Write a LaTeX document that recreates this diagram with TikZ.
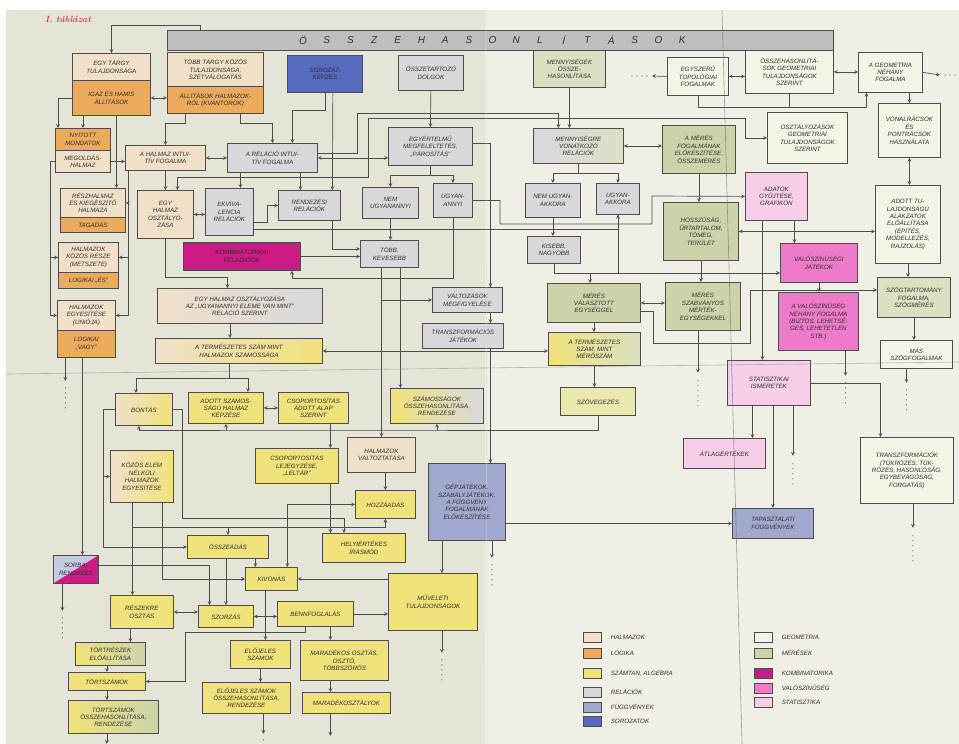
\documentclass[tikz,border=0pt]{standalone}
\usepackage{fontspec}
\setsansfont{Liberation Sans}
\usetikzlibrary{positioning}

\definecolor{paper}{RGB}{230,227,215}
\definecolor{paperb}{RGB}{241,238,229}
\definecolor{lin}{RGB}{78,76,74}
\definecolor{ink}{RGB}{50,46,44}
\definecolor{halm}{RGB}{240,224,200}
\definecolor{logi}{RGB}{235,170,92}
\definecolor{szam}{RGB}{240,226,122}
\definecolor{szamv}{RGB}{232,232,175}
\definecolor{rel}{RGB}{216,216,220}
\definecolor{fugg}{RGB}{160,168,206}
\definecolor{soro}{RGB}{86,106,190}
\definecolor{geo}{RGB}{245,243,230}
\definecolor{meres}{RGB}{204,211,170}
\definecolor{komb}{RGB}{206,26,132}
\definecolor{valo}{RGB}{238,122,202}
\definecolor{stat}{RGB}{246,206,232}
\definecolor{barc}{RGB}{190,190,190}
\definecolor{redink}{RGB}{205,70,70}

\begin{document}
\begin{tikzpicture}[x=1pt, y=-1pt, >=stealth]
        \tikzstyle{box}=[draw=lin, line width=0.8pt, anchor=north west, align=center, inner sep=1pt, text=ink, font=\sffamily\itshape\fontsize{6.2}{7.4}\selectfont]
        \tikzstyle{conn}=[draw=lin, line width=0.7pt]
        \tikzstyle{cont}=[draw=lin, line width=1.2pt, line cap=round, dash pattern=on 0pt off 5pt]
        \tikzstyle{leg}=[draw=lin, line width=0.6pt, minimum width=18, minimum height=10, inner sep=0pt]
        \tikzstyle{legtxt}=[font=\sffamily\itshape\fontsize{6.2}{7}\selectfont, text=ink, label distance=6pt]

        % paper
        \useasboundingbox (0,0) rectangle (959,744);
        \fill[white] (0,0) rectangle (959,744);
        \fill[paper] (6,10) rectangle (485,744);
        \fill[paperb] (485,10) rectangle (959,744);

        \node[font=\rmfamily\itshape\bfseries\fontsize{9}{10}\selectfont, text=redink] (cim) at (68,19) {I. táblázat};

        % header bar
        \node[draw=lin, line width=0.7pt, fill=barc, anchor=north west, minimum width=666, minimum height=20, inner sep=0pt] (bar) at (167,30) {};
        \foreach \l [count=\i from 0] in {Ö,S,S,Z,E,H,A,S,O,N,L,Í,T,Á,S,O,K}
            \node[font=\sffamily\itshape\fontsize{10}{11}\selectfont, text=ink] (bl\i) at ({303+23.7*\i},40) {\l};

        % left part
        \node[box, fill=halm, minimum width=78, minimum height=27] (targy1) at (72,53) {EGY TÁRGY\\TULAJDONSÁGA};
        \node[box, fill=logi, minimum width=78, minimum height=35] (allit) at (72,80) {IGAZ ÉS HAMIS\\ÁLLÍTÁSOK};
        \node[box, fill=halm, minimum width=96, minimum height=34] (targy2) at (167,52) {TÖBB TÁRGY KÖZÖS\\TULAJDONSÁGA,\\SZÉTVÁLOGATÁS};
        \node[box, fill=logi, minimum width=96, minimum height=27] (targy2b) at (167,86) {ÁLLÍTÁSOK HALMAZOK-\\RÓL (KVANTOROK)};
        \node[box, fill=soro, minimum width=75, minimum height=37] (sorozat) at (287,55) {SOROZAT-\\KÉPZÉS};
        \node[box, fill=rel, minimum width=65, minimum height=35] (osszetart) at (398,55) {ÖSSZETARTOZÓ\\DOLGOK};
        \node[box, fill=logi, minimum width=55, minimum height=22] (nyitott) at (55,128) {NYITOTT\\MONDATOK};
        \node[box, fill=halm, minimum width=55, minimum height=22] (megold) at (55,150) {MEGOLDÁS-\\HALMAZ};
        \node[box, fill=halm, minimum width=80, minimum height=25] (halmint) at (125,145) {A HALMAZ INTUI-\\TÍV FOGALMA};
        \node[box, fill=rel, minimum width=90, minimum height=29] (relint) at (227,143) {A RELÁCIÓ INTUI-\\TÍV FOGALMA};
        \node[box, fill=rel, minimum width=84, minimum height=38] (parosit) at (388,127) {EGYÉRTELMŰ\\MEGFELELTETÉS,\\„PÁROSÍTÁS”};
        \node[box, fill=halm, minimum width=65, minimum height=29] (reszh) at (60,188) {RÉSZHALMAZ\\ÉS KIEGÉSZÍTŐ\\HALMAZA};
        \node[box, fill=logi, minimum width=65, minimum height=15] (tagad) at (60,217) {TAGADÁS};
        \node[box, fill=halm, minimum width=56, minimum height=48] (osztaly) at (137,190) {EGY\\HALMAZ\\OSZTÁLYO-\\ZÁSA};
        \node[box, fill=rel, minimum width=48, minimum height=47] (ekviv) at (205,188) {EKVIVA-\\LENCIA\\RELÁCIÓK};
        \node[box, fill=rel, minimum width=62, minimum height=30] (rendez) at (278,190) {RENDEZÉSI\\RELÁCIÓK};
        \node[box, fill=rel, minimum width=56, minimum height=31] (nemugy) at (362,187) {NEM\\UGYANANNYI};
        \node[box, fill=rel, minimum width=39, minimum height=34] (ugyan) at (433,183) {UGYAN-\\ANNYI};
        \node[box, fill=halm, minimum width=60, minimum height=30] (metszet) at (58,242) {HALMAZOK\\KÖZÖS RÉSZE\\(METSZETE)};
        \node[box, fill=logi, minimum width=60, minimum height=16] (es) at (58,272) {LOGIKAI „ÉS”};
        \node[box, fill=halm, minimum width=58, minimum height=30] (unio) at (57,300) {HALMAZOK\\EGYESÍTÉSE\\(UNIÓJA)};
        \node[box, fill=logi, minimum width=58, minimum height=27] (vagy) at (57,330) {LOGIKAI\\„VAGY”};
        \node[box, fill=komb, minimum width=117, minimum height=28] (komb) at (183,242) {KOMBINATORIKAI\\FELADATOK};
        \node[box, fill=rel, minimum width=58, minimum height=27] (tobb) at (360,240) {TÖBB,\\KEVESEBB};
        \node[box, left color=halm, right color=rel, minimum width=165, minimum height=35] (osztugy) at (157,288) {EGY HALMAZ OSZTÁLYOZÁSA\\AZ „UGYANANNYI ELEME VAN MINT”\\RELÁCIÓ SZERINT};
        \node[box, fill=rel, minimum width=70, minimum height=25] (valtoz) at (432,287) {VÁLTOZÁSOK\\MEGFIGYELÉSE};
        \node[box, fill=rel, minimum width=81, minimum height=25] (transzjat) at (422,323) {TRANSZFORMÁCIÓS\\JÁTÉKOK};
        \node[box, left color=halm, right color=szam, minimum width=167, minimum height=25] (termszam) at (155,338) {A TERMÉSZETES SZÁM MINT\\HALMAZOK SZÁMOSSÁGA};

        % numbers
        \node[box, left color=halm, right color=szam, minimum width=57, minimum height=32] (bontas) at (115,393) {BONTÁS};
        \node[box, fill=szam, minimum width=75, minimum height=31] (adottszam) at (188,392) {ADOTT SZÁMOS-\\SÁGÚ HALMAZ\\KÉPZÉSE};
        \node[box, fill=szam, minimum width=70, minimum height=31] (csoport) at (278,392) {CSOPORTOSÍTÁS\\ADOTT ALAP\\SZERINT};
        \node[box, left color=szam, right color=rel, minimum width=93, minimum height=35] (szamossag) at (390,388) {SZÁMOSSÁGOK\\ÖSSZEHASONLÍTÁSA,\\RENDEZÉSE};
        \node[box, fill=halm, minimum width=68, minimum height=35] (halmvalt) at (347,437) {HALMAZOK\\VÁLTOZTATÁSA};
        \node[box, fill=szam, minimum width=83, minimum height=35] (leltar) at (255,448) {CSOPORTOSÍTÁS\\LEJEGYZÉSE,\\„LELTÁR”};
        \node[box, left color=halm, right color=szam, minimum width=63, minimum height=52] (kozos) at (110,450) {KÖZÖS ELEM\\NÉLKÜLI\\HALMAZOK\\EGYESÍTÉSE};
        \node[box, fill=fugg, minimum width=77, minimum height=77] (gepjat) at (428,463) {GÉPJÁTÉKOK,\\SZABÁLYJÁTÉKOK,\\A FÜGGVÉNY\\FOGALMÁNAK\\ELŐKÉSZÍTÉSE};
        \node[box, fill=szam, minimum width=60, minimum height=28] (hozza) at (355,490) {HOZZÁADÁS};
        \node[box, fill=szam, minimum width=83, minimum height=29] (helyi) at (322,533) {HELYIÉRTÉKES\\ÍRÁSMÓD};
        \node[box, fill=szam, minimum width=81, minimum height=23] (osszead) at (187,535) {ÖSSZEADÁS};
        \node[box, fill=szam, minimum width=52, minimum height=23] (kivon) at (245,567) {KIVONÁS};
        \node[box, fill=szam, minimum width=89, minimum height=57] (muvel) at (388,573) {MŰVELETI\\TULAJDONSÁGOK};
        \node[box, fill=fugg!60!white, minimum width=45, minimum height=28,
              path picture={\fill[komb] (path picture bounding box.north east) -- (path picture bounding box.south east) -- (path picture bounding box.south west) -- cycle;}] (becsles) at (53,555) {SORBA-\\RENDEZÉS};
        \node[box, fill=szam, minimum width=63, minimum height=33] (reszek) at (110,595) {RÉSZEKRE\\OSZTÁS};
        \node[box, fill=szam, minimum width=55, minimum height=22] (szorzas) at (198,605) {SZORZÁS};
        \node[box, fill=szam, minimum width=76, minimum height=25] (bennfog) at (277,601) {BENNFOGLALÁS};
        \node[box, left color=szam, right color=meres, minimum width=70, minimum height=23] (tortresz) at (75,642) {TÖRTRÉSZEK\\ELŐÁLLÍTÁSA};
        \node[box, fill=szam, minimum width=77, minimum height=18] (tortszam) at (68,672) {TÖRTSZÁMOK};
        \node[box, left color=szam, right color=meres, minimum width=90, minimum height=33] (tortossz) at (68,700) {TÖRTSZÁMOK\\ÖSSZEHASONLÍTÁSA,\\RENDEZÉSE};
        \node[box, fill=szam, minimum width=60, minimum height=28] (elojel) at (230,640) {ELŐJELES\\SZÁMOK};
        \node[box, fill=szam, minimum width=88, minimum height=31] (elojelossz) at (202,682) {ELŐJELES SZÁMOK\\ÖSSZEHASONLÍTÁSA,\\RENDEZÉSE};
        \node[box, fill=szam, minimum width=88, minimum height=40] (maradek) at (300,640) {MARADÉKOS OSZTÁS,\\OSZTÓ,\\TÖBBSZÖRÖS};
        \node[box, fill=szam, minimum width=88, minimum height=21] (maradekoszt) at (302,692) {MARADÉKOSZTÁLYOK};

        % measures, geometry, statistics
        \node[box, fill=meres!70!white, minimum width=72, minimum height=37] (mennyiseg) at (533,50) {MENNYISÉGEK\\ÖSSZE-\\HASONLÍTÁSA};
        \node[box, left color=rel, right color=meres!70!white, minimum width=90, minimum height=35] (menrel) at (533,128) {MENNYISÉGRE\\VONATKOZÓ\\RELÁCIÓK};
        \node[box, fill=rel, minimum width=55, minimum height=34] (nemakkora) at (525,183) {NEM UGYAN-\\AKKORA};
        \node[box, fill=rel, minimum width=43, minimum height=31] (akkora) at (596,183) {UGYAN-\\AKKORA};
        \node[box, fill=rel, minimum width=53, minimum height=27] (kisebb) at (527,236) {KISEBB,\\NAGYOBB};
        \node[box, fill=meres, minimum width=93, minimum height=39] (meresval) at (547,283) {MÉRÉS\\VÁLASZTOTT\\EGYSÉGGEL};
        \node[box, left color=szam, right color=meres!70!white, minimum width=92, minimum height=33] (termmero) at (548,332) {A TERMÉSZETES\\SZÁM, MINT\\MÉRŐSZÁM};
        \node[box, fill=szamv, minimum width=75, minimum height=28] (szoveg) at (560,387) {SZÖVEGEZÉS};
        \node[box, fill=geo, minimum width=61, minimum height=38] (topol) at (667,57) {EGYSZERŰ\\TOPOLÓGIAI\\FOGALMAK};
        \node[box, fill=geo, minimum width=88, minimum height=43] (geoossz) at (745,50) {ÖSSZEHASONLÍTÁ-\\SOK GEOMETRIAI\\TULAJDONSÁGOK\\SZERINT};
        \node[box, fill=geo, minimum width=64, minimum height=40] (geofog) at (858,52) {A GEOMETRIA\\NÉHÁNY\\FOGALMA};
        \node[box, fill=geo, minimum width=62, minimum height=54] (vonal) at (878,103) {VONALRÁCSOK\\ÉS\\PONTRÁCSOK\\HASZNÁLATA};
        \node[box, fill=geo, minimum width=80, minimum height=51] (osztgeo) at (767,112) {OSZTÁLYOZÁSOK\\GEOMETRIAI\\TULAJDONSÁGOK\\SZERINT};
        \node[box, fill=meres, minimum width=73, minimum height=48] (meresfog) at (662,125) {A MÉRÉS\\FOGALMÁNAK\\ELŐKÉSZÍTÉSE,\\ÖSSZEMÉRÉS};
        \node[box, fill=stat, minimum width=62, minimum height=48] (adatok) at (745,172) {ADATOK\\GYŰJTÉSE,\\GRAFIKON};
        \node[box, fill=meres, minimum width=75, minimum height=58] (hossz) at (663,202) {HOSSZÚSÁG,\\ŰRTARTALOM,\\TÖMEG,\\TERÜLET};
        \node[box, fill=geo, minimum width=65, minimum height=78] (alakzat) at (875,185) {ADOTT TU-\\LAJDONSÁGÚ\\ALAKZATOK\\ELŐÁLLÍTÁSA\\(ÉPÍTÉS,\\MODELLEZÉS,\\RAJZOLÁS)};
        \node[box, fill=valo, minimum width=77, minimum height=39] (valjat) at (780,243) {VALÓSZÍNŰSÉGI\\JÁTÉKOK};
        \node[box, fill=valo, minimum width=80, minimum height=58] (valfog) at (778,292) {A VALÓSZÍNŰSÉG\\NÉHÁNY FOGALMA\\(BIZTOS, LEHETSÉ-\\GES, LEHETETLEN\\STB.)};
        \node[box, fill=meres!70!white, minimum width=73, minimum height=40] (szog) at (877,277) {SZÖGTARTOMÁNY\\FOGALMA,\\SZÖGMÉRÉS};
        \node[box, fill=geo, minimum width=72, minimum height=28] (masszog) at (880,340) {MÁS\\SZÖGFOGALMAK};
        \node[box, fill=meres, minimum width=75, minimum height=48] (meresszab) at (665,282) {MÉRÉS\\SZABVÁNYOS\\MÉRTÉK-\\EGYSÉGEKKEL};
        \node[box, fill=stat, minimum width=83, minimum height=45] (statism) at (727,360) {STATISZTIKAI\\ISMERETEK};
        \node[box, fill=stat, minimum width=82, minimum height=30] (atlag) at (683,438) {ÁTLAGÉRTÉKEK};
        \node[box, fill=geo, minimum width=93, minimum height=66] (transz) at (860,437) {TRANSZFORMÁCIÓK\\(TÜKRÖZÉS, TÜK-\\RÖZÉS, HASONLÓSÁG,\\EGYBEVÁGÓSÁG,\\FORGATÁS)};
        \node[box, fill=fugg, minimum width=81, minimum height=30] (tapfugg) at (732,508) {TAPASZTALATI\\FÜGGVÉNYEK};

        % bend points
        \coordinate (m1) at (357,113);
        \coordinate (o1) at (368,118);
        \coordinate (o2) at (368,177);
        \coordinate (o3) at (745,118);
        \coordinate (u1) at (500,224);
        \coordinate (u2) at (652,196);
        \coordinate (mv) at (590,273);
        \coordinate (s1) at (653,343);
        \coordinate (s2) at (750,290);
        \coordinate (bt) at (185,632);
        \coordinate (tr) at (300,430);
        \coordinate (tl) at (652,76);
        \coordinate (gr) at (940,75);

        % upper left connectors
        \draw[conn,->] ([xshift=33pt]bar.north west) -- ++(0,-5) -| (targy1.north);
        \draw[conn,<->] (allit.east) -- (allit.east -| targy2b.west);
        \draw[conn,->] (nyitott.north |- allit.south) -- (nyitott.north);
        \draw[conn,->] ([xshift=5pt]allit.south) -- ([xshift=23.5pt]reszh.north);
        \draw[conn,->] (allit.west) -| ([xshift=3pt]nyitott.north west);
        \draw[conn,->] (megold.east) -- (megold.east -| halmint.west);
        \draw[conn,<->] (halmint.east) -- (halmint.east -| relint.west);
        \draw[conn,->] ([xshift=-30pt]targy2b.south) -- ++(0,10) -| (halmint.north);
        \draw[conn,->] ([xshift=25pt]targy2b.south) -- ++(0,10) -| (relint.north);
        \draw[conn,->] (sorozat.south) -- ++(0,18) -| ([xshift=20pt]relint.north);
        \draw[conn,->] ([xshift=8pt]sorozat.south) -- ([xshift=23pt]rendez.north);
        \draw[conn,->] (osszetart.south) -- (parosit.north);
        \draw[conn,<->] (relint.east) -- (relint.east -| parosit.west);
        \draw[conn,->] ([yshift=5pt]relint.east) -| (m1) -| ([xshift=-20pt]menrel.north);
        \draw[conn,<->] ([xshift=12pt]osztaly.north) |- (o2) -- (o1) -| (o3) |- (osztgeo.west);
        \draw[conn,->] ([xshift=-32pt]relint.south) -- ([xshift=11pt]ekviv.north);
        \draw[conn,->] ([xshift=28pt]relint.south) -- ([xshift=-9pt]rendez.north);
        \draw[conn,->] (halmint.south) -- (halmint.south |- osztaly.north);
        \draw[conn,<->] (osztaly.east) -- (osztaly.east -| ekviv.west);
        \draw[conn,->] ([yshift=-10pt]ekviv.east) -- ++(14,0) |- (rendez.west);
        \draw[conn,->] ([yshift=-17pt]ekviv.east) -| (akkora.south);
        \draw[conn,->] (parosit.south) -- ++(0,10) -| (nemugy.north);
        \draw[conn,->] (parosit.south) ++(0,10) -| (ugyan.north);
        \draw[conn,->] (nemugy.south) -- (nemugy.south |- tobb.north);
        \draw[conn,->] ([yshift=3pt]parosit.east) -| ([xshift=23pt]valtoz.north);
        \draw[conn,->] (ugyan.south) -- ++(0,61) -| ([xshift=50pt]komb.south);
        \draw[conn,->] (komb.east) -- (komb.east -| tobb.west);
        \draw[conn,->] ([xshift=23pt]rendez.south) |- ([yshift=5pt]tobb.west);
        \draw[conn,->] (halmvalt.north |- tobb.south) -- (halmvalt.north);
        \draw[conn,->] (halmvalt.north |- valtoz.west) -- (valtoz.west);
        \draw[conn,->] ([xshift=11pt]tobb.south) -- ([xshift=-36.5pt]szamossag.north);
        \draw[conn,->] ([xshift=23pt]valtoz.south) -- ([xshift=27.5pt]transzjat.north);
        \draw[conn,->] ([xshift=27.5pt]transzjat.south) -- ([xshift=23.5pt]gepjat.north);
        \draw[conn,<->] (termszam.east) -- (termszam.east -| termmero.west);
        \draw[conn,->] ([xshift=-37pt]halmint.south) |- (reszh.east);
        \draw[conn,->] ([xshift=-37pt]halmint.south) |- (metszet.east);
        \draw[conn,->] ([xshift=-37pt]halmint.south) |- (unio.east);
        \draw[conn,->] (megold.west) -- ++(-5,0) |- (metszet.west);
        \draw[conn,->] (megold.west) ++(-5,0) |- (unio.west);
        \draw[conn,->] (osztaly.south) -- ++(0,39) -| ([xshift=-12.5pt]osztugy.north);
        \draw[conn,->] ([xshift=-10pt]osztugy.south) -- ([xshift=-9pt]termszam.north);

        % measures and geometry connectors
        \draw[conn,->] (mennyiseg.south) -- (mennyiseg.south |- menrel.north);
        \draw[conn,->] (menrel.south) -- ++(0,10) -| (nemakkora.north);
        \draw[conn,->] (menrel.south) ++(0,10) -| (akkora.north);
        \draw[conn,->] (nemakkora.south) -- (nemakkora.south |- kisebb.north);
        \draw[conn,->] (kisebb.south) |- (valjat.west |- mv);
        \draw[conn] (akkora.south) -- (akkora.south |- mv);
        \draw[conn,->] (mv) -- (mv |- meresval.north);
        \draw[conn,->] (meresval.south) -- (meresval.south |- termmero.north);
        \draw[conn,->] (termmero.south) -- (termmero.south |- szoveg.north);
        \draw[conn,<->] (meresval.east) -- (meresval.east -| meresszab.west);
        \draw[conn,->] ([yshift=-8pt]meresval.east) -| (s1) -| (s2) -- (s2 -| szog.west);
        \draw[conn,<->] (menrel.east) -- (menrel.east -| meresfog.west);
        \draw[conn,->] (meresfog.south) -- (meresfog.south |- hossz.north);
        \draw[conn,->] (hossz.south) -- (hossz.south |- meresszab.north);
        \draw[conn,->] (ugyan.east) -| (u1) -| (u2) -- (adatok.west);
        \draw[conn,<->] (topol.east) -- (topol.east -| geoossz.west);
        \draw[conn,<->] (geoossz.east) -- (geoossz.east -| geofog.west);
        \draw[conn,->] (topol.west) -- (tl);
        \draw[cont] (tl) ++(-5,0) -- ++(-18,0);
        \draw[conn,->] (geofog.east) -- (gr);
        \draw[cont] (gr) ++(5,0) -- ++(12,0);
        \draw[conn,->] (topol.south) -- ++(0,12) -| ([xshift=-24pt]geofog.south);
        \draw[conn] (geoossz.south) -- ++(0,14);
        \draw[conn,->] (vonal.north |- geofog.south) -- (vonal.north);
        \draw[conn,<->] (vonal.south) -- (vonal.south |- alakzat.north);
        \draw[conn,<->] (hossz.east) -- (hossz.east -| alakzat.west);
        \draw[conn,->] ([xshift=18pt]adatok.south) -- ([xshift=-24.5pt]valjat.north);
        \draw[conn,->] ([xshift=-14pt]adatok.south) -- ([xshift=-6.5pt]statism.north);
        \draw[conn,->] (valjat.south) -- (valjat.south |- valfog.north);
        \draw[conn,->] (alakzat.south) -- (alakzat.south |- szog.north);
        \draw[conn,->] (szog.south) -- (szog.south |- masszog.north);
        \draw[conn,->] ([xshift=-16.5pt]statism.south) -- ([xshift=28pt]atlag.north);
        \draw[conn,->] ([xshift=4pt]statism.south) -- (tapfugg.north);
        \draw[conn,->] (statism.east) -| ([xshift=-26.5pt]transz.north);
        \draw[conn,->] (gepjat.east |- tapfugg.west) -- (tapfugg.west);

        % lower connectors
        \draw[conn,->] ([xshift=-25pt]gepjat.south) -- ([xshift=9pt]muvel.north);
        \draw[conn,->] (bennfog.east) -- (bennfog.east -| muvel.west);
        \draw[conn,->] (kivon.east -| muvel.west) -- (kivon.east);
        \draw[conn,->] (hozza.north |- halmvalt.south) -- (hozza.north);
        \draw[conn,<->] ([xshift=16pt]kivon.north) |- (hozza.west);
        \draw[conn,->] ([xshift=-9.5pt]kozos.south) -- ++(0,25) -| (hozza.south);
        \draw[conn,->] ([xshift=-9.5pt]kozos.south) -- ([xshift=-9.5pt]reszek.north);
        \draw[conn,->] ([yshift=8pt]osszead.north) -- (osszead.north);
        \draw[conn,->] ([xshift=20.5pt]kozos.south) |- (kivon.west);
        \draw[conn,->] (bontas.west) -- ++(-12,0) |- (kozos.west);
        \draw[conn,->] (bontas.west) ++(-12,0) |- (osszead.west);
        \draw[conn,->] (bontas.east) -| ++(10,109) -| ([xshift=-20pt]helyi.north);
        \draw[conn,->] ([xshift=17pt]csoport.south) -- ([xshift=33.5pt]leltar.north);
        \draw[conn,->] ([xshift=33.5pt]leltar.south) -- ([xshift=-33.5pt]helyi.north);
        \draw[conn,<->] (adottszam.east) -- (adottszam.east -| csoport.west);
        \draw[conn,->] ([xshift=-10pt]termszam.south) -- ++(0,15) -| ([xshift=-8pt]bontas.north);
        \draw[conn,->] ([xshift=-10pt]termszam.south) ++(0,15) -| ([xshift=22pt]adottszam.north);
        \draw[conn,<-] ([xshift=-5pt]bontas.south) |- (tr) -| (szoveg.south);
        \draw[conn,->] (adottszam.south |- tr) -- (adottszam.south);
        \draw[conn,->] (szamossag.south |- tr) -- (szamossag.south);
        \draw[conn,->] ([xshift=-4pt]vagy.south) -- ([xshift=6.5pt]becsles.north);
        \draw[conn,->] ([yshift=4pt]becsles.east) -| ([xshift=-16.5pt]szorzas.north);
        \draw[conn,->] (szorzas.north |- osszead.south) -- (szorzas.north);
        \draw[conn,->] ([xshift=27.5pt]osszead.south) -- ([xshift=-16pt]kivon.north);
        \draw[conn,<->] (reszek.east) -- (reszek.east -| szorzas.west);
        \draw[conn,<->] (szorzas.east) -- (szorzas.east -| bennfog.west);
        \draw[conn,->] ([xshift=-6pt]kivon.south) -- ([xshift=5pt]elojel.north);
        \draw[conn,->] (elojel.south) -- (elojel.south |- elojelossz.north);
        \draw[conn,->] ([xshift=15pt]bennfog.south) -- ([xshift=-14pt]maradek.north);
        \draw[conn,->] ([xshift=-14pt]maradek.south) -- ([xshift=-16pt]maradekoszt.north);
        \draw[conn,->] ([xshift=-10pt]bennfog.south) |- (bt) |- (tortszam.east);
        \draw[conn,->] ([xshift=-11.5pt]reszek.south) -- ([xshift=20pt]tortresz.north);
        \draw[conn,->] (tortszam.north |- tortresz.south) -- (tortszam.north);
        \draw[conn,->] (tortszam.south) -- (tortszam.south |- tortossz.north);

        % continued below
        \draw[conn,->] ([xshift=-21pt]vagy.south) -- ++(0,23);
        \draw[cont] ([xshift=-21pt]vagy.south) ++(0,30) -- ++(0,24);
        \draw[conn,->] ([xshift=-13.5pt]becsles.south) -- ++(0,27);
        \draw[cont] ([xshift=-13.5pt]becsles.south) ++(0,34) -- ++(0,24);
        \draw[conn,->] ([xshift=-6.5pt]tortossz.south) -- ++(0,10);
        \draw[conn,->] ([xshift=17pt]elojelossz.south) -- ++(0,20);
        \draw[cont] ([xshift=17pt]elojelossz.south) ++(0,26) -- ++(0,5);
        \draw[conn,->] ([xshift=-16pt]maradekoszt.south) -- ++(0,22);
        \draw[conn,->] ([xshift=9pt]muvel.south) -- ++(0,22);
        \draw[cont] ([xshift=9pt]muvel.south) ++(0,29) -- ++(0,24);
        \draw[conn,->] ([xshift=25pt]gepjat.south) -- ++(0,17);
        \draw[cont] ([xshift=25pt]gepjat.south) ++(0,24) -- ++(0,22);
        \draw[conn,->] ([xshift=-5pt]meresszab.south) -- ++(0,42);
        \draw[cont] ([xshift=-5pt]meresszab.south) ++(0,50) -- ++(0,28);
        \draw[conn,->] ([xshift=27pt]valfog.south) -- ++(0,25);
        \draw[cont] ([xshift=27pt]valfog.south) ++(0,32) -- ++(0,22);
        \draw[conn,->] ([xshift=-10pt]masszog.south) -- ++(0,14);
        \draw[cont] ([xshift=-10pt]masszog.south) ++(0,21) -- ++(0,22);
        \draw[conn,->] ([xshift=24pt]statism.south) -- ++(0,50);
        \draw[cont] ([xshift=24pt]statism.south) ++(0,58) -- ++(0,20);
        \draw[conn,->] ([xshift=6pt]transz.south) -- ++(0,24);
        \draw[cont] ([xshift=6pt]transz.south) ++(0,32) -- ++(0,26);

        % legend
        \node[leg, fill=halm, label={[legtxt]right:HALMAZOK}] (lghalm) at (592,637) {};
        \node[leg, fill=logi, label={[legtxt]right:LOGIKA}] (lglogi) at (592,653) {};
        \node[leg, fill=szam, label={[legtxt]right:{SZÁMTAN, ALGEBRA}}] (lgszam) at (592,673) {};
        \node[leg, fill=rel, label={[legtxt]right:RELÁCIÓK}] (lgrel) at (592,692) {};
        \node[leg, fill=fugg, label={[legtxt]right:FÜGGVÉNYEK}] (lgfugg) at (592,707) {};
        \node[leg, fill=soro, label={[legtxt]right:SOROZATOK}] (lgsoro) at (592,721) {};
        \node[leg, fill=geo, label={[legtxt]right:GEOMETRIA}] (lggeo) at (763,637) {};
        \node[leg, fill=meres, label={[legtxt]right:MÉRÉSEK}] (lgmeres) at (763,653) {};
        \node[leg, fill=komb, label={[legtxt]right:KOMBINATORIKA}] (lgkomb) at (763,673) {};
        \node[leg, fill=valo, label={[legtxt]right:VALÓSZÍNŰSÉG}] (lgvalo) at (763,688) {};
        \node[leg, fill=stat, label={[legtxt]right:STATISZTIKA}] (lgstat) at (763,702) {};

        % folds of the sheet
        \draw[black!15, line width=0.8pt, opacity=0.5] (486,10) -- (487,744);
        \draw[black!55, line width=0.6pt, opacity=0.7] (722,10) -- (742,744);
        \draw[black!45, line width=0.6pt, opacity=0.6] (6,374) -- (959,362);
    \end{tikzpicture}
\end{document}
